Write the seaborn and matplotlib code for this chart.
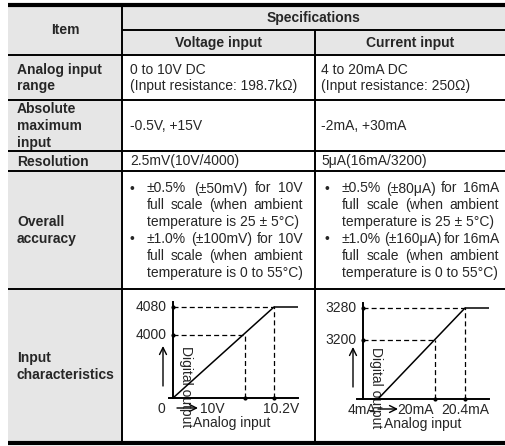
import numpy as np
import matplotlib
matplotlib.use('Agg')
import matplotlib.pyplot as plt
from matplotlib.patches import Rectangle
import seaborn as sns

# ---- table text ----
item_header = 'Item'
spec_header = 'Specifications'
col_headers = ['Voltage input', 'Current input']
row_items = [['Analog input', 'range'],
             ['Absolute', 'maximum', 'input'],
             ['Resolution'],
             ['Overall', 'accuracy'],
             ['Input', 'characteristics']]
voltage_cells = [['0 to 10V DC', '(Input resistance: 198.7kΩ)'],
                 ['-0.5V, +15V'],
                 ['2.5mV(10V/4000)']]
current_cells = [['4 to 20mA DC', '(Input resistance: 250Ω)'],
                 ['-2mA, +30mA'],
                 ['5μA(16mA/3200)']]
voltage_accuracy = [['±0.5% (±50mV) for 10V', 'full scale (when ambient', 'temperature is 25 ± 5°C)'],
                    ['±1.0% (±100mV) for 10V', 'full scale (when ambient', 'temperature is 0 to 55°C)']]
current_accuracy = [['±0.5% (±80μA) for 16mA', 'full scale (when ambient', 'temperature is 25 ± 5°C)'],
                    ['±1.0% (±160μA) for 16mA', 'full scale (when ambient', 'temperature is 0 to 55°C)']]

# ---- chart data ----
volt_x_ticks = [0, 10, 10.2]
volt_x_labels = ['0', '10V', '10.2V']
volt_y_ticks = [0, 4000, 4080]
volt_curve_x = [0, 10.2]
volt_curve_y = [0, 4080]

curr_x_ticks = [0, 4, 20, 20.4]
curr_x_labels = ['', '4mA', '20mA', '20.4mA']
curr_y_ticks = [0, 3200, 3280]
curr_curve_x = [4, 20.4]
curr_curve_y = [0, 3280]

sns.set_theme(style='white')
plt.rcParams['font.family'] = ['Liberation Sans', 'DejaVu Sans']
plt.rcParams['font.size'] = 10

W, H = 506, 446
fig = plt.figure(figsize=(W / 100, H / 100), dpi=100)
tab = fig.add_axes([0, 0, 1, 1])
tab.set_xlim(0, W)
tab.set_ylim(H, 0)
tab.axis('off')

GRAY = '#e6e6e6'
X0, X1, X2, X3 = 8, 122, 315, 506
Y_TOP, Y_SPLIT, Y_HEAD = 5, 30, 55
row_lines = [100, 151, 171, 289]
Y_BOT = 443
LINE_H = 16.8
BASE = 4.5   # baseline offset below a line's centre

tab.add_patch(Rectangle((X0, Y_TOP), X3 - X0, Y_HEAD - Y_TOP, color=GRAY, lw=0))
tab.add_patch(Rectangle((X0, Y_HEAD), X1 - X0, Y_BOT - Y_HEAD, color=GRAY, lw=0))

tab.hlines([Y_TOP, Y_BOT], X0, X3, color='black', lw=3)
tab.hlines(Y_SPLIT, X1, X3, color='black', lw=1.4)
tab.hlines([Y_HEAD] + row_lines, X0, X3, color='black', lw=1.4)
tab.vlines(X1, Y_TOP, Y_BOT, color='black', lw=1.4)
tab.vlines(X2, Y_SPLIT, Y_BOT, color='black', lw=1.4)

bold = dict(fontweight='bold', va='baseline')
tab.text((X0 + X1) / 2, (Y_TOP + Y_HEAD) / 2 + BASE, item_header, ha='center', **bold)
tab.text((X1 + X3) / 2, (Y_TOP + Y_SPLIT) / 2 + BASE, spec_header, ha='center', **bold)
tab.text((X1 + X2) / 2, (Y_SPLIT + Y_HEAD) / 2 + BASE, col_headers[0], ha='center', **bold)
tab.text((X2 + X3) / 2, (Y_SPLIT + Y_HEAD) / 2 + BASE, col_headers[1], ha='center', **bold)

row_tops = [Y_HEAD] + row_lines
row_bots = row_lines + [Y_BOT]


def stack(x, lines, top, bot, **kw):
    y0 = (top + bot) / 2 - (len(lines) - 1) * LINE_H / 2
    for i, s in enumerate(lines):
        tab.text(x, y0 + i * LINE_H + BASE, s, va='baseline', **kw)


for i, lines in enumerate(row_items):
    stack(17, lines, row_tops[i], row_bots[i], fontweight='bold')
for i in range(3):
    stack(130, voltage_cells[i], row_tops[i], row_bots[i])
    stack(321, current_cells[i], row_tops[i], row_bots[i])

renderer = fig.canvas.get_renderer()


def justified(x_left, x_right, y, s):
    words = s.split(' ')
    widths = []
    for w in words:
        t = tab.text(0, 0, w)
        widths.append(t.get_window_extent(renderer).width)
        t.remove()
    gap = (x_right - x_left - sum(widths)) / (len(words) - 1)
    x = x_left
    for w, wd in zip(words, widths):
        tab.text(x, y + BASE, w, va='baseline')
        x += wd + gap


def bullets(x_bullet, x_text, x_right, groups, top, bot):
    n = sum(len(g) for g in groups)
    y = (top + bot) / 2 - (n - 1) * LINE_H / 2
    for g in groups:
        tab.text(x_bullet, y + BASE, '•', va='baseline', ha='center')
        for j, s in enumerate(g):
            if j < len(g) - 1:
                justified(x_text, x_right, y, s)
            else:
                tab.text(x_text, y + BASE, s, va='baseline')
            y += LINE_H


bullets(132, 147, 303, voltage_accuracy, row_tops[3], row_bots[3])
bullets(327, 342, 499, current_accuracy, row_tops[3], row_bots[3])


# ---- characteristic charts ----
def piecewise(xp, fp):
    xp = np.asarray(xp, float)
    fp = np.asarray(fp, float)
    lo = (fp[1] - fp[0]) / (xp[1] - xp[0])
    hi = (fp[-1] - fp[-2]) / (xp[-1] - xp[-2])

    def f(v):
        v = np.asarray(v, float)
        out = np.interp(v, xp, fp)
        out = np.where(v < xp[0], fp[0] + (v - xp[0]) * lo, out)
        out = np.where(v > xp[-1], fp[-1] + (v - xp[-1]) * hi, out)
        return out
    return f


ARROW = dict(arrowstyle='->,head_length=0.5,head_width=0.25', lw=1, color='black',
             shrinkA=0, shrinkB=0)


def chart(origin, x_ticks, x_px, y_ticks, y_px, curve_x, curve_y, x_labels, label_pos,
          u_range, v_range, arrow_x, label_centre):
    ox, oy = origin
    ulo, uhi = u_range
    vlo, vhi = v_range
    ax = fig.add_axes([(ox + ulo) / W, (H - oy + vlo) / H, (uhi - ulo) / W, (vhi - vlo) / H])
    ax.patch.set_alpha(0)
    fx, ix = piecewise(x_ticks, x_px), piecewise(x_px, x_ticks)
    fy, iy = piecewise(y_ticks, y_px), piecewise(y_px, y_ticks)
    ax.set_xscale('function', functions=(fx, ix))
    ax.set_yscale('function', functions=(fy, iy))
    x_end = float(ix(uhi))
    sns.lineplot(x=curve_x, y=curve_y, ax=ax, color='black', lw=1.1, estimator=None)
    ax.hlines(curve_y[-1], curve_x[-1], x_end, color='black', lw=1.1)
    ax.set_xlim(float(ix(ulo)), x_end)
    ax.set_ylim(float(iy(vlo)), float(iy(vhi)))
    ax.set_xticks([])
    ax.set_yticks([])
    ax.set(xlabel='', ylabel='')
    for s in ['top', 'right']:
        ax.spines[s].set_visible(False)
    for s in ['left', 'bottom']:
        ax.spines[s].set_position(('data', 0))
        ax.spines[s].set_linewidth(1.4)
        ax.spines[s].set_color('black')
    ax.spines['left'].set_bounds(0, float(iy(vhi - 2)))

    dash = dict(color='black', lw=0.9, ls=(0, (4, 2.5)))
    top_x, top_y = curve_x[-1], curve_y[-1]
    mid_y = y_ticks[1]
    mid_x = x_ticks[-2]
    ax.plot([0, top_x], [top_y, top_y], **dash)
    ax.plot([0, mid_x], [mid_y, mid_y], **dash)
    ax.plot([mid_x, mid_x], [0, mid_y], **dash)
    ax.plot([top_x, top_x], [0, top_y], **dash)
    ax.scatter([0, 0, mid_x, top_x], [top_y, mid_y, 0, 0], s=9, color='black', zorder=5, lw=0)

    for yv in y_ticks[1:]:
        ax.annotate(str(yv), (0, yv), xytext=(-6, 0), textcoords='offset pixels',
                    ha='right', va='center')
    for xv, lab, (dx, ha) in zip(x_ticks, x_labels, label_pos):
        if lab:
            ax.annotate(lab, (xv, 0), xytext=(dx, -15), textcoords='offset pixels',
                        ha=ha, va='baseline')
    # axis name arrows
    tab.annotate('', xy=(ox - 10, oy - 52), xytext=(ox - 10, oy - 12), arrowprops=ARROW)
    tab.annotate('', xy=(arrow_x[1], oy + 10), xytext=(arrow_x[0], oy + 10), arrowprops=ARROW)
    tab.text(ox + 13, oy - 52, 'Digital output', rotation=-90, ha='center', va='top')
    tab.text(label_centre, oy + 29, 'Analog input', ha='center', va='baseline')
    return ax


chart((173, 398), volt_x_ticks, [0, 72, 101], volt_y_ticks, [0, 63, 91],
      volt_curve_x, volt_curve_y, volt_x_labels, [(-12, 'center'), (-45, 'left'), (7, 'center')],
      (-4, 125), (-4, 98), (177, 198), 232)
chart((363, 399), curr_x_ticks, [0, 15, 72, 102], curr_y_ticks, [0, 59, 91],
      curr_curve_x, curr_curve_y, curr_x_labels,
      [(0, 'center'), (-2, 'right'), (-1, 'right'), (0, 'center')],
      (-6, 126), (-4, 98), (378, 398), 423)

fig.savefig('out.png', dpi=100)
